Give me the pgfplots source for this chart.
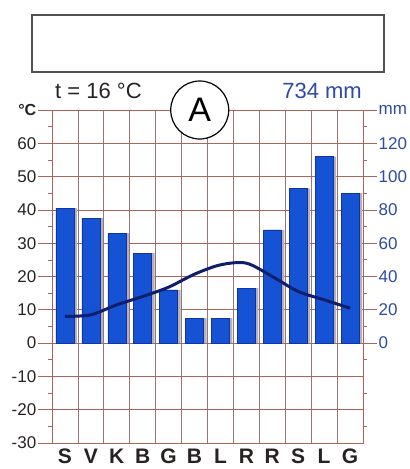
\documentclass[border=0pt]{standalone}
\usepackage{fontspec}
\setmainfont{Liberation Sans}
\usepackage{pgfplots}
\usepackage{pgfplotstable}
\pgfplotsset{compat=1.18}

\definecolor{gridc}{RGB}{172,100,90}
\definecolor{vgridc}{RGB}{150,118,118}
\definecolor{barblue}{RGB}{22,82,212}
\definecolor{baredge}{RGB}{14,52,165}
\definecolor{shadowc}{RGB}{178,178,184}
\definecolor{tline}{RGB}{14,30,110}
\definecolor{mmblue}{RGB}{45,75,165}
\definecolor{txt}{RGB}{40,35,35}
\definecolor{boxc}{RGB}{85,80,80}

\pgfplotstableread{
x mm t
0 81 8.0
1 75 8.5
2 66 11.5
3 54 14.0
4 32 16.8
5 15 20.7
6 15 23.5
7 33 24.0
8 68 20.0
9 93 15.5
10 112 13.0
11 90 10.5
}\climate

\pgfplotsset{base/.style={scale only axis, width=311pt, height=333pt,
  xmin=-0.5, xmax=11.5, at={(52pt,26pt)}, anchor=south west,
  /pgf/number format/assume math mode=true}}

\begin{document}
\begin{tikzpicture}
\useasboundingbox (0,0) rectangle (410pt,469pt);
% left (temperature) axis with grid
\begin{axis}[base, ymin=-30, ymax=70,
  axis line style={gridc, line width=0.7pt},
  xtick={0,...,11}, xticklabels={S,V,K,B,G,B,L,R,R,S,L,G},
  x tick style={draw=none},
  minor xtick={-0.5,0.5,...,11.5}, xminorgrids=true,
  minor grid style={vgridc, line width=0.7pt},
  minor x grid style={vgridc, line width=0.7pt},
  xticklabel style={font=\fontsize{21}{21}\selectfont\bfseries, text=txt, inner sep=0pt, yshift=-6pt},
  ytick={-30,-20,...,60}, ymajorgrids=true, minor ytick={-25,-15,...,65},
  ytick pos=left, ytick align=outside, major tick length=14pt, minor tick length=4pt,
  y tick style={gridc, line width=0.7pt},
  major grid style={gridc, line width=0.7pt},
  yticklabel style={font=\fontsize{17}{17}\selectfont, text=txt, inner sep=1.5pt},
  extra y ticks={70}, extra y tick labels={°C},
  extra y tick style={grid=none, yticklabel style={font=\fontsize{16}{16}\selectfont\bfseries}},
]
\end{axis}
% right (precipitation) axis with bars
\begin{axis}[base, ymin=-60, ymax=140, axis y line*=right, hide x axis,
  axis line style={gridc, line width=0.7pt},
  ytick={0,20,...,120}, minor ytick={-50,-30,...,130},
  ytick align=outside, major tick length=14pt, minor tick length=4pt,
  y tick style={gridc, line width=0.7pt},
  yticklabel style={font=\fontsize{17}{17}\selectfont, text=mmblue, inner sep=1.5pt},
  extra y ticks={140}, extra y tick labels={mm},
  extra y tick style={yticklabel style={font=\fontsize{17}{17}\selectfont}},
  ybar, bar width=18pt,
]
\addplot[fill=shadowc, draw=none, bar shift=3pt] table[x=x, y=mm]{\climate};
\addplot[fill=barblue, draw=baredge, line width=0.5pt, bar shift=0pt] table[x=x, y=mm]{\climate};
\end{axis}
% temperature curve
\begin{axis}[base, ymin=-30, ymax=70, hide axis, clip=false]
\addplot[tline, line width=3pt, smooth, tension=0.5] table[x=x, y=t]{\climate};
\node[circle, draw=black, line width=1.2pt, fill=white, minimum size=58pt, inner sep=0pt,
  font=\fontsize{34}{34}\selectfont] at (axis cs:5.2,70) {A};
\end{axis}
% header
\draw[line width=2pt, draw=boxc] (32pt,397pt) rectangle (384pt,454pt);
\node[anchor=base west, inner sep=0pt, font=\fontsize{22}{22}\selectfont, text=txt] at (55pt,370pt) {t = 16 °C};
\node[anchor=base east, inner sep=0pt, font=\fontsize{22}{22}\selectfont, text=mmblue] at (362pt,370pt) {734 mm};
\end{tikzpicture}
\end{document}
